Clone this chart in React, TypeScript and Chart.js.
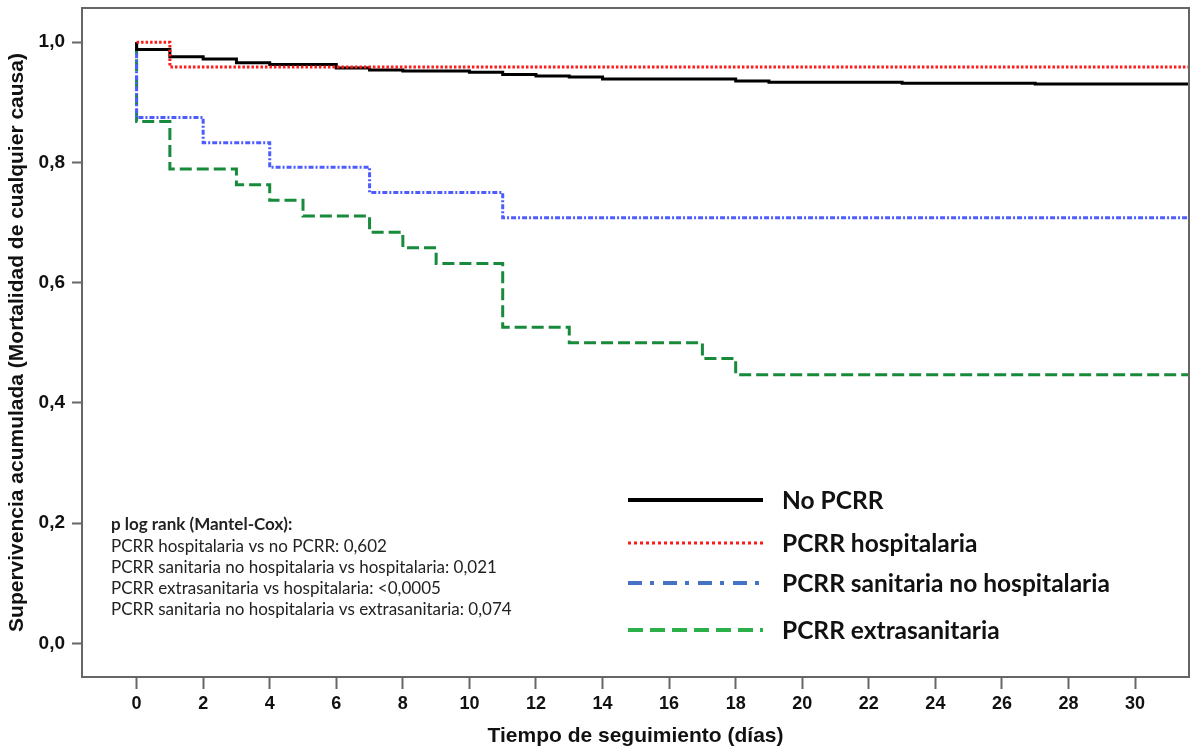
import React, { useEffect, useRef } from 'react';
import { Chart, registerables } from 'chart.js';

Chart.register(...registerables);

// ---- Data (Kaplan-Meier steps: day at which the value starts, survival) ----
const FOLLOW_UP_END = 31.62;

const noPcrrDays = [0, 0, 1, 2, 3, 4, 6, 7, 8, 10, 11, 12, 13, 14, 18, 19, 23, 27];
const noPcrrSurv = [1, 0.988, 0.976, 0.972, 0.966, 0.963, 0.957, 0.954, 0.952, 0.95, 0.9465, 0.944, 0.942, 0.939, 0.9355, 0.9334, 0.932, 0.9306];

const hospDays = [0, 1];
const hospSurv = [1, 0.959];

const sanitDays = [0, 0, 2, 4, 7, 11];
const sanitSurv = [1, 0.875, 0.833, 0.792, 0.75, 0.708];

const extraDays = [0, 0, 1, 3, 4, 5, 7, 8, 9, 11, 13, 17, 18];
const extraSurv = [1, 0.868, 0.789, 0.763, 0.737, 0.711, 0.684, 0.658, 0.632, 0.526, 0.5, 0.474, 0.447];

const X_TICKS = [0, 2, 4, 6, 8, 10, 12, 14, 16, 18, 20, 22, 24, 26, 28, 30];
const Y_TICKS = [0, 0.2, 0.4, 0.6, 0.8, 1.0];

const SERIES_LABELS = ['No PCRR', 'PCRR hospitalaria', 'PCRR sanitaria no hospitalaria', 'PCRR extrasanitaria'];

const STATS_TITLE = 'p log rank (Mantel-Cox):';
const STATS_LINES = [
  'PCRR hospitalaria vs no PCRR: 0,602',
  'PCRR sanitaria no hospitalaria vs hospitalaria: 0,021',
  'PCRR extrasanitaria vs hospitalaria: <0,0005',
  'PCRR sanitaria no hospitalaria vs extrasanitaria: 0,074',
];

const X_TITLE = 'Tiempo de seguimiento (días)';
const Y_TITLE = 'Supervivencia acumulada (Mortalidad de cualquier causa)';

function toPoints(days: number[], surv: number[]) {
  const pts = days.map((d, i) => ({ x: d, y: surv[i] }));
  pts.push({ x: FOLLOW_UP_END, y: surv[surv.length - 1] });
  return pts;
}

const legendStyles = [
  { color: '#000000', dash: [] as number[], width: 4 },
  { color: '#ff1a1a', dash: [3, 3], width: 3 },
  { color: '#4472c4', dash: [14, 8, 4, 9], width: 4 },
  { color: '#2bb04a', dash: [15, 7], width: 4 },
];

const overlayPlugin = {
  id: 'overlay',
  afterDraw(chart: any) {
    const { ctx, chartArea } = chart;
    ctx.save();
    // frame
    ctx.strokeStyle = '#666666';
    ctx.lineWidth = 2;
    ctx.setLineDash([]);
    ctx.beginPath();
    ctx.moveTo(chartArea.left, chartArea.top);
    ctx.lineTo(chartArea.right, chartArea.top);
    ctx.lineTo(chartArea.right, chartArea.bottom);
    ctx.stroke();

    // legend
    const rowsY = [500, 543, 583, 630];
    ctx.textBaseline = 'middle';
    ctx.textAlign = 'left';
    SERIES_LABELS.forEach((label, i) => {
      const s = legendStyles[i];
      ctx.strokeStyle = s.color;
      ctx.lineWidth = s.width;
      ctx.setLineDash(s.dash);
      ctx.lineCap = 'butt';
      ctx.beginPath();
      ctx.moveTo(628, rowsY[i]);
      ctx.lineTo(763, rowsY[i]);
      ctx.stroke();
      ctx.setLineDash([]);
      ctx.fillStyle = '#111111';
      ctx.font = 'bold 24.5px Lato';
      ctx.fillText(label, 782, rowsY[i] + 1);
    });

    // stats annotation
    ctx.fillStyle = '#222222';
    ctx.font = 'bold 17px Lato';
    ctx.fillText(STATS_TITLE, 111, 525);
    ctx.font = '17px Lato';
    STATS_LINES.forEach((t, i) => {
      ctx.fillText(t, 111, 547 + i * 21);
    });
    ctx.restore();
  },
};

export default function App() {
  const canvasRef = useRef<HTMLCanvasElement | null>(null);

  useEffect(() => {
    document.body.style.margin = '0';
    const canvas = canvasRef.current;
    if (!canvas) return;
    const chart = new Chart(canvas, {
      type: 'line',
      data: {
        datasets: [
          {
            label: SERIES_LABELS[1],
            data: toPoints(hospDays, hospSurv),
            borderColor: '#ff1a1a',
            borderWidth: 3,
            borderDash: [2.5, 2],
            stepped: 'before',
            pointRadius: 0,
            fill: false,
          },
          {
            label: SERIES_LABELS[0],
            data: toPoints(noPcrrDays, noPcrrSurv),
            borderColor: '#000000',
            borderWidth: 3,
            stepped: 'before',
            pointRadius: 0,
            fill: false,
          },
          {
            label: SERIES_LABELS[2],
            data: toPoints(sanitDays, sanitSurv),
            borderColor: '#4d5cff',
            borderWidth: 3,
            borderDash: [5, 2, 2, 2],
            stepped: 'before',
            pointRadius: 0,
            fill: false,
          },
          {
            label: SERIES_LABELS[3],
            data: toPoints(extraDays, extraSurv),
            borderColor: '#178a3c',
            borderWidth: 3,
            borderDash: [12, 5],
            stepped: 'before',
            pointRadius: 0,
            fill: false,
          },
        ],
      },
      options: {
        responsive: false,
        animation: false,
        events: [],
        layout: { padding: { left: 0, top: 8, right: 3, bottom: 0 } },
        plugins: {
          legend: { display: false },
          tooltip: { enabled: false },
          title: { display: false },
        },
        scales: {
          x: {
            type: 'linear',
            min: -1.64,
            max: FOLLOW_UP_END,
            afterFit: (scale: any) => {
              scale.height = 72;
              scale.paddingLeft = 0;
              scale.paddingRight = 0;
              scale.paddingTop = 0;
              scale.paddingBottom = 0;
            },
            afterBuildTicks: (scale: any) => {
              scale.ticks = X_TICKS.map((v) => ({ value: v }));
            },
            grid: {
              drawOnChartArea: false,
              drawTicks: true,
              tickLength: 12,
              tickColor: '#666666',
              tickWidth: 2,
            },
            border: { display: true, color: '#666666', width: 2 },
            ticks: {
              color: '#111111',
              padding: 4,
              font: { family: 'Liberation Sans', size: 18, weight: 'bold' },
              callback: (v: any) => String(v),
            },
            title: {
              display: true,
              text: X_TITLE,
              color: '#111111',
              padding: { top: 0, bottom: 0 },
              font: { family: 'Liberation Sans', size: 21, weight: 'bold' },
            },
          },
          y: {
            type: 'linear',
            min: -0.056,
            max: 1.057,
            afterFit: (scale: any) => {
              scale.width = 82;
              scale.paddingLeft = 0;
              scale.paddingRight = 0;
              scale.paddingTop = 0;
              scale.paddingBottom = 0;
            },
            afterBuildTicks: (scale: any) => {
              scale.ticks = Y_TICKS.map((v) => ({ value: v }));
            },
            grid: {
              drawOnChartArea: false,
              drawTicks: true,
              tickLength: 10,
              tickColor: '#666666',
              tickWidth: 2,
            },
            border: { display: true, color: '#666666', width: 2 },
            ticks: {
              color: '#111111',
              padding: 7,
              font: { family: 'Liberation Sans', size: 19, weight: 'bold' },
              callback: (v: any) => Number(v).toFixed(1).replace('.', ','),
            },
            title: {
              display: true,
              text: Y_TITLE,
              color: '#111111',
              padding: { top: 5, bottom: 0 },
              font: { family: 'Liberation Sans', size: 21, weight: 'bold' },
            },
          },
        },
      },
      plugins: [overlayPlugin],
    });
    return () => chart.destroy();
  }, []);

  return (
    <div style={{ position: 'absolute', left: 0, top: 0, width: 1192, height: 749, background: '#ffffff' }}>
      <canvas ref={canvasRef} width={1192} height={749} style={{ display: 'block' }} />
    </div>
  );
}
